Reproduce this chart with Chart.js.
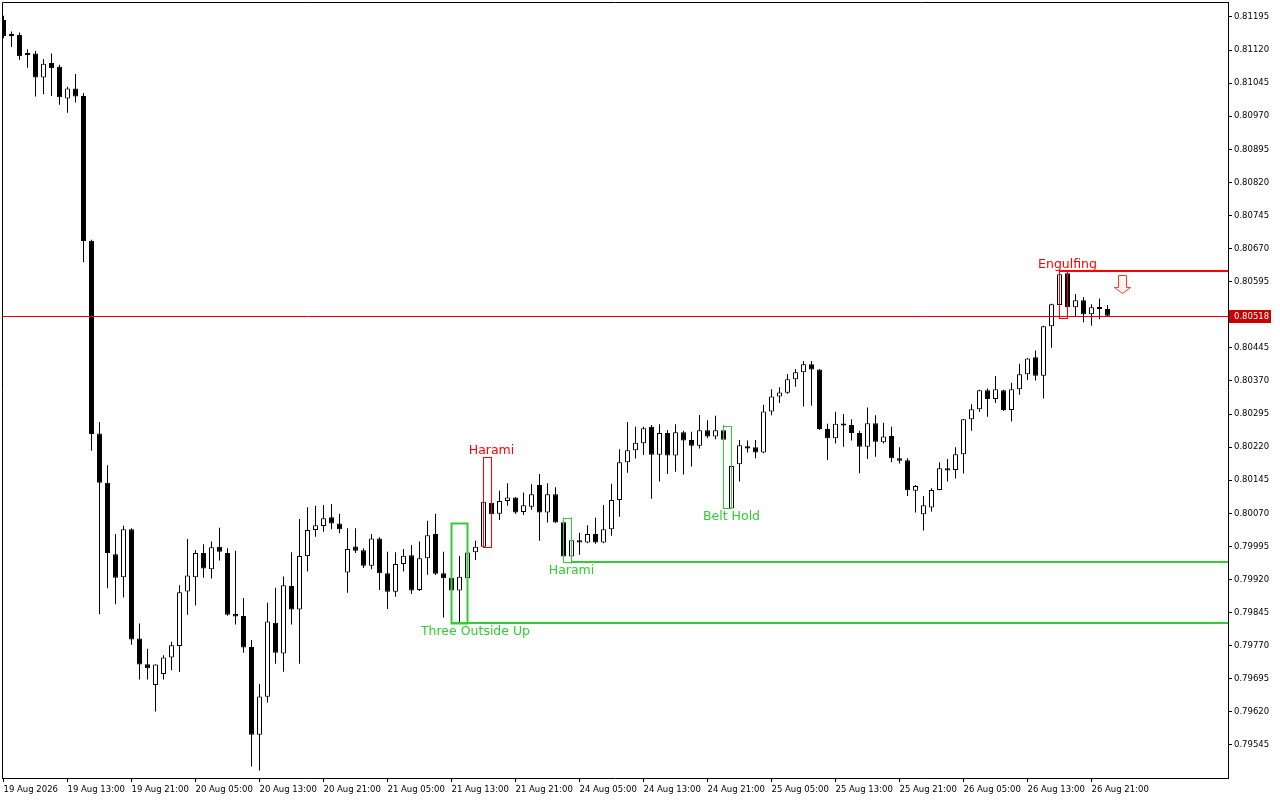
<!DOCTYPE html>
<html>
<head>
<meta charset="utf-8">
<script src="https://cdn.jsdelivr.net/npm/chart.js@4/dist/chart.umd.min.js"></script>
<style>
body { margin: 0; background: #fff; }
#wrap { width: 1280px; height: 800px; }
</style>
</head>
<body>
<div id="wrap"><canvas id="graphJs" width="1280" height="800"></canvas></div>
<script>
// hourly candles, 19 Aug 05:00 -> 26 Aug 23:00
const openP = [
  0.81188, 0.81154, 0.81154, 0.81111, 0.81112, 0.81058, 0.81091, 0.81082, 0.81010, 0.81033,
  0.81016, 0.80688, 0.80251, 0.80139, 0.79977, 0.79925, 0.80034, 0.79786, 0.79728, 0.79681,
  0.79706, 0.79743, 0.79769, 0.79893, 0.79925, 0.79980, 0.79943, 0.79994, 0.79980, 0.79842,
  0.79837, 0.79767, 0.79568, 0.79654, 0.79822, 0.79752, 0.79905, 0.79852, 0.79973, 0.80032,
  0.80041, 0.80061, 0.80047, 0.79936, 0.79995, 0.79986, 0.79951, 0.80013, 0.79934, 0.79892,
  0.79955, 0.79975, 0.79896, 0.79968, 0.80023, 0.79934, 0.79924, 0.79895, 0.79923, 0.79982,
  0.79994, 0.80094, 0.80069, 0.80098, 0.80106, 0.80073, 0.80085, 0.80134, 0.80072, 0.80113,
  0.80050, 0.79972, 0.80009, 0.80004, 0.80023, 0.80004, 0.80034, 0.80100, 0.80186, 0.80213,
  0.80229, 0.80266, 0.80203, 0.80252, 0.80201, 0.80254, 0.80236, 0.80223, 0.80258, 0.80244,
  0.80258, 0.80081, 0.80181, 0.80222, 0.80220, 0.80208, 0.80301, 0.80335, 0.80343, 0.80374,
  0.80390, 0.80408, 0.80396, 0.80261, 0.80240, 0.80273, 0.80270, 0.80252, 0.80221, 0.80274,
  0.80231, 0.80245, 0.80195, 0.80190, 0.80121, 0.80068, 0.80083, 0.80123, 0.80172, 0.80168,
  0.80204, 0.80283, 0.80306, 0.80349, 0.80329, 0.80349, 0.80304, 0.80351, 0.80385, 0.80424,
  0.80382, 0.80494, 0.80542, 0.80614, 0.80537, 0.80553, 0.80521, 0.80535, 0.80533
];
const highP = [
  0.81198, 0.81162, 0.81160, 0.81122, 0.81118, 0.81100, 0.81112, 0.81087, 0.81037, 0.81066,
  0.81023, 0.80690, 0.80277, 0.80179, 0.80023, 0.80042, 0.80036, 0.79820, 0.79763, 0.79728,
  0.79748, 0.79779, 0.79907, 0.80012, 0.79987, 0.80000, 0.80006, 0.80037, 0.79991, 0.79985,
  0.79878, 0.79783, 0.79683, 0.79867, 0.79901, 0.79927, 0.79982, 0.80057, 0.80084, 0.80087,
  0.80089, 0.80091, 0.80069, 0.80036, 0.80036, 0.79991, 0.80023, 0.80016, 0.79983, 0.79982,
  0.79989, 0.79998, 0.80006, 0.80053, 0.80069, 0.79983, 0.79925, 0.79973, 0.79998, 0.80008,
  0.80170, 0.80123, 0.80121, 0.80138, 0.80107, 0.80117, 0.80136, 0.80159, 0.80138, 0.80129,
  0.80060, 0.80060, 0.80026, 0.80043, 0.80060, 0.80089, 0.80137, 0.80215, 0.80277, 0.80266,
  0.80266, 0.80270, 0.80272, 0.80259, 0.80272, 0.80257, 0.80255, 0.80293, 0.80281, 0.80291,
  0.80269, 0.80182, 0.80236, 0.80235, 0.80236, 0.80316, 0.80351, 0.80356, 0.80386, 0.80397,
  0.80415, 0.80415, 0.80397, 0.80273, 0.80300, 0.80295, 0.80283, 0.80257, 0.80310, 0.80292,
  0.80275, 0.80266, 0.80220, 0.80195, 0.80134, 0.80109, 0.80127, 0.80186, 0.80193, 0.80220,
  0.80284, 0.80317, 0.80350, 0.80353, 0.80381, 0.80350, 0.80366, 0.80409, 0.80422, 0.80439,
  0.80495, 0.80545, 0.80618, 0.80620, 0.80567, 0.80560, 0.80544, 0.80557, 0.80542
];
const lowP = [
  0.81147, 0.81127, 0.81098, 0.81080, 0.81015, 0.81020, 0.81016, 0.80996, 0.80978, 0.81001,
  0.80639, 0.80212, 0.79841, 0.79900, 0.79864, 0.79879, 0.79772, 0.79693, 0.79693, 0.79621,
  0.79693, 0.79714, 0.79710, 0.79840, 0.79861, 0.79924, 0.79922, 0.79963, 0.79838, 0.79818,
  0.79754, 0.79496, 0.79487, 0.79641, 0.79729, 0.79711, 0.79818, 0.79729, 0.79938, 0.80017,
  0.80028, 0.80034, 0.80025, 0.79890, 0.79980, 0.79946, 0.79943, 0.79896, 0.79853, 0.79881,
  0.79938, 0.79887, 0.79894, 0.79931, 0.79930, 0.79834, 0.79822, 0.79822, 0.79887, 0.79964,
  0.79993, 0.80055, 0.80055, 0.80087, 0.80069, 0.80066, 0.80078, 0.80008, 0.80049, 0.80048,
  0.79960, 0.79957, 0.79976, 0.80002, 0.80001, 0.80002, 0.80019, 0.80062, 0.80162, 0.80194,
  0.80202, 0.80103, 0.80142, 0.80159, 0.80164, 0.80158, 0.80176, 0.80217, 0.80240, 0.80238,
  0.80229, 0.80081, 0.80142, 0.80208, 0.80195, 0.80206, 0.80292, 0.80320, 0.80341, 0.80357,
  0.80312, 0.80314, 0.80259, 0.80191, 0.80228, 0.80221, 0.80235, 0.80161, 0.80193, 0.80198,
  0.80228, 0.80186, 0.80183, 0.80109, 0.80072, 0.80031, 0.80074, 0.80122, 0.80142, 0.80149,
  0.80160, 0.80257, 0.80300, 0.80289, 0.80320, 0.80302, 0.80278, 0.80339, 0.80372, 0.80371,
  0.80330, 0.80445, 0.80528, 0.80512, 0.80516, 0.80503, 0.80495, 0.80510, 0.80515
];
const closeP = [
  0.81152, 0.81152, 0.81106, 0.81109, 0.81058, 0.81089, 0.81079, 0.81013, 0.81033, 0.81015,
  0.80687, 0.80250, 0.80139, 0.79980, 0.79924, 0.80034, 0.79784, 0.79727, 0.79719, 0.79727,
  0.79743, 0.79771, 0.79891, 0.79929, 0.79980, 0.79945, 0.79993, 0.79983, 0.79840, 0.79836,
  0.79766, 0.79568, 0.79655, 0.79825, 0.79754, 0.79907, 0.79852, 0.79973, 0.80032, 0.80043,
  0.80059, 0.80047, 0.80034, 0.79989, 0.79985, 0.79951, 0.80013, 0.79934, 0.79892, 0.79955,
  0.79974, 0.79895, 0.79968, 0.80020, 0.79933, 0.79923, 0.79895, 0.79926, 0.79981, 0.79994,
  0.80096, 0.80068, 0.80098, 0.80106, 0.80072, 0.80088, 0.80113, 0.80072, 0.80113, 0.80049,
  0.79972, 0.80009, 0.80004, 0.80023, 0.80004, 0.80034, 0.80100, 0.80186, 0.80213, 0.80230,
  0.80263, 0.80203, 0.80252, 0.80201, 0.80254, 0.80235, 0.80223, 0.80258, 0.80244, 0.80258,
  0.80237, 0.80177, 0.80224, 0.80217, 0.80208, 0.80301, 0.80335, 0.80344, 0.80374, 0.80390,
  0.80408, 0.80396, 0.80261, 0.80240, 0.80273, 0.80269, 0.80252, 0.80221, 0.80274, 0.80232,
  0.80244, 0.80195, 0.80189, 0.80122, 0.80132, 0.80088, 0.80123, 0.80172, 0.80167, 0.80204,
  0.80283, 0.80306, 0.80349, 0.80329, 0.80351, 0.80304, 0.80351, 0.80385, 0.80421, 0.80382,
  0.80494, 0.80544, 0.80612, 0.80537, 0.80553, 0.80521, 0.80537, 0.80533, 0.80518
];

const timeTicks = [0, 8, 16, 24, 32, 40, 48, 56, 64, 72, 80, 88, 96, 104, 112, 120, 128, 136];
const timeLabels = ["19 Aug 2026", "19 Aug 13:00", "19 Aug 21:00", "20 Aug 05:00", "20 Aug 13:00",
  "20 Aug 21:00", "21 Aug 05:00", "21 Aug 13:00", "21 Aug 21:00", "24 Aug 05:00", "24 Aug 13:00",
  "24 Aug 21:00", "25 Aug 05:00", "25 Aug 13:00", "25 Aug 21:00", "26 Aug 05:00", "26 Aug 13:00",
  "26 Aug 21:00"];
const priceTicks = [0.81195, 0.81120, 0.81045, 0.80970, 0.80895, 0.80820, 0.80745, 0.80670, 0.80595,
  0.80445, 0.80370, 0.80295, 0.80220, 0.80145, 0.80070, 0.79995, 0.79920, 0.79845, 0.79770,
  0.79695, 0.79620, 0.79545];

// candle patterns found by the indicator
const patternNames = ["Three Outside Up", "Harami", "Harami", "Belt Hold", "Engulfing"];
const patternStart = [56, 60, 70, 90, 132];
const patternEnd = [58, 61, 71, 91, 133];
const patternHigh = [0.80049, 0.80197, 0.80060, 0.80269, 0.80620];
const patternLow = [0.79822, 0.79994, 0.79960, 0.80081, 0.80512];
const patternBull = [true, false, true, true, false];
const patternLabelAt = [59, 61, 71, 91, 133];

// support / resistance lines left by patterns
const levelPrice = [0.79822, 0.79960, 0.80620];
const levelFrom = [56, 71, 132];
const levelBull = [true, true, false];

// sell signal arrow
const arrowIdx = 140;
const arrowTop = 0.80610;
const arrowBottom = 0.80569;

const GREEN = "#32cd32";
const RED = "#ff0000";

const idx = openP.map((v, i) => i);

const patternPlugin = {
  id: "patterns",
  afterDatasetsDraw(chart) {
    const ctx = chart.ctx, xs = chart.scales.x, ys = chart.scales.y, a = chart.chartArea;
    ctx.save();
    ctx.beginPath();
    ctx.rect(a.left, a.top, a.right - a.left, a.bottom - a.top);
    ctx.clip();

    // current price line
    const last = closeP[closeP.length - 1];
    let py = Math.round(ys.getPixelForValue(last)) + 0.5;
    ctx.strokeStyle = "#e00000";
    ctx.lineWidth = 1;
    ctx.beginPath();
    ctx.moveTo(a.left, py);
    ctx.lineTo(a.right, py);
    ctx.stroke();

    levelPrice.forEach((p, k) => {
      const y = Math.round(ys.getPixelForValue(p));
      ctx.strokeStyle = levelBull[k] ? GREEN : RED;
      ctx.lineWidth = 2;
      ctx.beginPath();
      ctx.moveTo(xs.getPixelForValue(levelFrom[k]) - 0.5, y);
      ctx.lineTo(a.right, y);
      ctx.stroke();
    });

    patternNames.forEach((name, k) => {
      const x1 = xs.getPixelForValue(patternStart[k]);
      const x2 = xs.getPixelForValue(patternEnd[k]);
      const y1 = Math.round(ys.getPixelForValue(patternHigh[k])) + 0.5;
      const y2 = Math.round(ys.getPixelForValue(patternLow[k])) + 0.5;
      const col = patternBull[k] ? GREEN : RED;
      ctx.strokeStyle = col;
      ctx.lineWidth = (patternEnd[k] - patternStart[k] > 1) ? 2 : 1;
      ctx.strokeRect(x1, y1, x2 - x1, y2 - y1);

      ctx.fillStyle = col;
      ctx.font = "12.5px 'DejaVu Sans'";
      ctx.textAlign = "center";
      const lx = xs.getPixelForValue(patternLabelAt[k]);
      if (patternBull[k]) {
        ctx.textBaseline = "top";
        ctx.fillText(name, lx, y2 + 2);
      } else {
        ctx.textBaseline = "bottom";
        ctx.fillText(name, lx, y1 - 1);
      }
    });

    // hollow down arrow
    const ax = xs.getPixelForValue(arrowIdx) - 1;
    const t = Math.round(ys.getPixelForValue(arrowTop)) + 0.5;
    const b = Math.round(ys.getPixelForValue(arrowBottom)) + 0.5;
    const m = Math.round(t + (b - t) * 0.64) + 0.5;
    ctx.beginPath();
    ctx.moveTo(ax - 4, t);
    ctx.lineTo(ax + 4, t);
    ctx.lineTo(ax + 4, m);
    ctx.lineTo(ax + 8, m);
    ctx.lineTo(ax, b);
    ctx.lineTo(ax - 8, m);
    ctx.lineTo(ax - 4, m);
    ctx.closePath();
    ctx.fillStyle = "#fff4f0";
    ctx.fill();
    ctx.strokeStyle = "#ff3a2a";
    ctx.lineWidth = 1;
    ctx.stroke();
    ctx.restore();
  },
  afterDraw(chart) {
    const ctx = chart.ctx, ys = chart.scales.y, a = chart.chartArea;
    ctx.save();
    // chart frame (left and top)
    ctx.strokeStyle = "#000";
    ctx.lineWidth = 1;
    ctx.beginPath();
    ctx.moveTo(a.left + 0.5, a.bottom);
    ctx.lineTo(a.left + 0.5, a.top + 0.5);
    ctx.lineTo(a.right, a.top + 0.5);
    ctx.stroke();

    // current price tag on the axis
    const last = closeP[closeP.length - 1];
    const py = Math.round(ys.getPixelForValue(last));
    ctx.fillStyle = "#c80000";
    ctx.fillRect(a.right + 1, py - 6, 42, 13);
    ctx.fillStyle = "#fff";
    ctx.font = "8.5px 'DejaVu Sans'";
    ctx.textAlign = "left";
    ctx.textBaseline = "middle";
    ctx.fillText(last.toFixed(5), a.right + 6, py + 0.5);
    ctx.restore();
  }
};

new Chart("graphJs", {
  type: "bar",
  data: {
    datasets: [{
      label: "body",
      data: idx.map(i => ({x: i, y: [openP[i], closeP[i]]})),
      backgroundColor: idx.map(i => closeP[i] > openP[i] ? "#ffffff" : "#000000"),
      borderColor: "#000000",
      borderWidth: 1,
      borderSkipped: false,
      barThickness: 5,
      minBarLength: 2,
      inflateAmount: 0,
      grouped: false,
      order: 0
    }, {
      label: "wick",
      data: idx.map(i => ({x: i, y: [lowP[i], highP[i]]})),
      backgroundColor: "#000000",
      borderWidth: 0,
      barThickness: 1,
      inflateAmount: 0,
      grouped: false,
      order: 1
    }]
  },
  options: {
    responsive: false,
    animation: false,
    devicePixelRatio: 1,
    layout: {padding: {left: 2, top: 2, right: 0, bottom: 0}},
    plugins: {legend: {display: false}, tooltip: {enabled: false}},
    scales: {
      x: {
        type: "linear",
        min: -0.1875,
        max: 153.0625,
        bounds: "data",
        offset: false,
        afterBuildTicks: s => { s.ticks = timeTicks.map(v => ({value: v})); },
        afterFit: s => { s.height = 22; s.paddingLeft = 0; s.paddingRight = 0; },
        ticks: {
          autoSkip: false, maxRotation: 0, minRotation: 0, align: "start", padding: 3,
          color: "#000", font: {family: "DejaVu Sans", size: 8.5},
          callback: (v, i) => timeLabels[i]
        },
        grid: {drawOnChartArea: false, offset: false, tickLength: 4, tickColor: "#000"},
        border: {color: "#000"}
      },
      y: {
        type: "linear",
        position: "right",
        min: 0.79470,
        max: 0.81229,
        bounds: "data",
        afterBuildTicks: s => { s.ticks = priceTicks.map(v => ({value: v})); },
        afterFit: s => { s.width = 52; s.paddingTop = 0; s.paddingBottom = 0; },
        ticks: {
          padding: 2, color: "#000", font: {family: "DejaVu Sans", size: 8.5},
          callback: v => v.toFixed(5)
        },
        grid: {drawOnChartArea: false, tickLength: 4, tickColor: "#000"},
        border: {color: "#000"}
      }
    }
  },
  plugins: [patternPlugin]
});
</script>
</body>
</html>
